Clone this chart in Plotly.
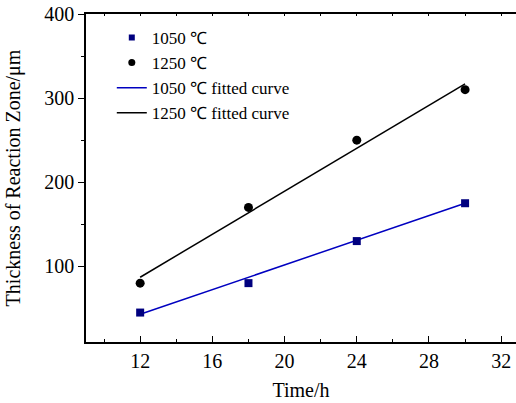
import plotly.graph_objects as go

# ---- data ----
time_h = [12, 18, 24, 30]
thick_1050 = [45, 80, 130, 175]
thick_1250 = [80, 170, 250, 310]
fit_time_h = [12, 30]
fit_1050 = [43, 175]
fit_1250 = [87, 317]

labels = ["1050 \u2103", "1250 \u2103", "1050 \u2103 fitted curve", "1250 \u2103 fitted curve"]

NAVY = "#00007f"
BLUE = "#0000c0"
FONT = "Liberation Serif, Times New Roman, serif"

fig = go.Figure()

# plotted marks (legend handled by small proxy entries)
fig.add_trace(go.Scatter(x=fit_time_h, y=fit_1050, mode="lines",
                         line=dict(color=BLUE, width=1.5), showlegend=False))
fig.add_trace(go.Scatter(x=fit_time_h, y=fit_1250, mode="lines",
                         line=dict(color="black", width=1.5), showlegend=False))
fig.add_trace(go.Scatter(x=time_h, y=thick_1050, mode="markers",
                         marker=dict(symbol="square", size=8, color=NAVY), showlegend=False))
fig.add_trace(go.Scatter(x=time_h, y=thick_1250, mode="markers",
                         marker=dict(symbol="circle", size=9, color="black"), showlegend=False))

# legend proxies
fig.add_trace(go.Scatter(x=[None], y=[None], mode="markers", name=labels[0],
                         marker=dict(symbol="square", size=6, color=NAVY)))
fig.add_trace(go.Scatter(x=[None], y=[None], mode="markers", name=labels[1],
                         marker=dict(symbol="circle", size=7, color="black")))
fig.add_trace(go.Scatter(x=[None], y=[None], mode="lines", name=labels[2],
                         line=dict(color=BLUE, width=1.5)))
fig.add_trace(go.Scatter(x=[None], y=[None], mode="lines", name=labels[3],
                         line=dict(color="black", width=1.5)))

# invisible trace on the top axis
fig.add_trace(go.Scatter(x=[None], y=[None], xaxis="x2", showlegend=False))

fig.update_layout(
    width=516, height=403,
    margin=dict(l=86, r=0, t=14, b=61),
    paper_bgcolor="white", plot_bgcolor="white",
    font=dict(family=FONT, color="black", size=20),
    xaxis=dict(
        range=[9, 32.82], tickvals=[12, 16, 20, 24, 28, 32],
        ticks="inside", ticklen=6, tickwidth=1.2, tickcolor="black",
        minor=dict(tickvals=[10, 14, 18, 22, 26, 30], ticks="inside", ticklen=3,
                   tickcolor="black", tickwidth=1.2),
        showline=True, linecolor="black", linewidth=1.5,
        showgrid=False, zeroline=False, automargin=False,
        tickfont=dict(size=20),
        title=dict(text="Time/h", font=dict(size=20), standoff=12),
    ),
    xaxis2=dict(
        overlaying="x", side="top", range=[9, 32.82], dtick=2, tick0=10,
        ticks="inside", ticklen=2, tickcolor="black",
        showticklabels=False, showline=True, linecolor="black", linewidth=1.5,
        showgrid=False, zeroline=False, automargin=False,
    ),
    yaxis=dict(
        range=[10, 400], tickvals=[100, 200, 300, 400],
        ticks="outside", ticklen=6, tickwidth=1.2, tickcolor="black",
        minor=dict(tickvals=[150, 250, 350], ticks="outside", ticklen=3,
                   tickcolor="black", tickwidth=1.2),
        showline=True, linecolor="black", linewidth=1.5,
        showgrid=False, zeroline=False, automargin=False,
        tickfont=dict(size=20),
        title=dict(text="Thickness of Reaction Zone/\u03bcm", font=dict(size=20), standoff=18),
    ),
    legend=dict(
        x=0.06, y=0.982, xanchor="left", yanchor="top",
        bgcolor="rgba(0,0,0,0)", borderwidth=0,
        font=dict(size=17, family=FONT), tracegroupgap=0,
    ),
)

fig.write_html(
    "out.html",
    config={"displayModeBar": False},
    post_script="document.body.style.margin='0';document.body.style.padding='0';",
)
